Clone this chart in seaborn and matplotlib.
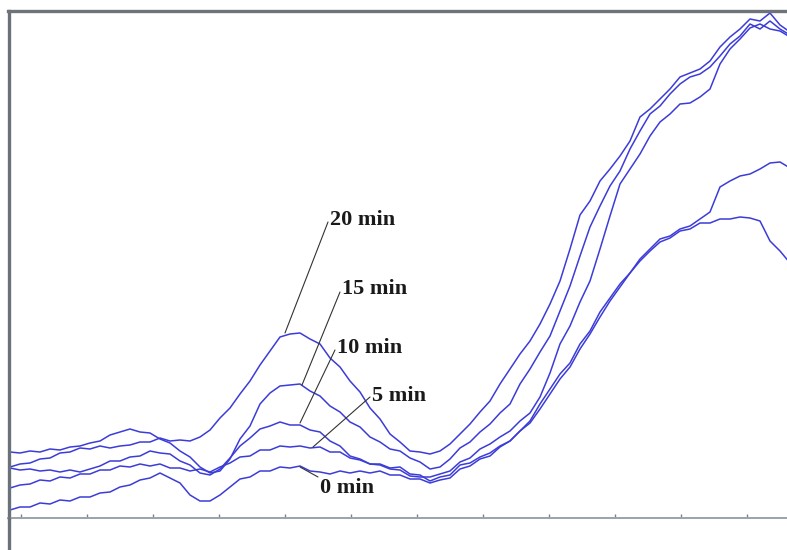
import pandas as pd
import matplotlib
matplotlib.use("Agg")
import matplotlib.pyplot as plt
import seaborn as sns
from matplotlib.lines import Line2D

# canal de muestreo (eje x sin etiquetas)
channel = list(range(10, 800, 10))

# señales, una por tiempo
sig_20 = [51, 54, 55, 59, 60, 65, 66, 70, 69, 72, 70, 72, 73, 76, 76, 80, 77, 78, 77, 81,
          88, 100, 110, 124, 137, 153, 167, 181, 184, 185, 179, 174, 160, 151, 137, 126, 110, 99, 84, 76,
          67, 66, 64, 67, 74, 84, 94, 106, 117, 134, 149, 164, 177, 194, 214, 237, 269, 303, 317, 337,
          349, 362, 377, 401, 409, 419, 429, 441, 445, 449, 457, 471, 481, 489, 499, 497, 505, 493, 486]
sig_15 = [66, 65, 67, 66, 69, 68, 71, 72, 75, 77, 83, 86, 89, 86, 85, 79, 75, 67, 61, 51,
          45, 47, 59, 79, 92, 114, 125, 132, 133, 134, 127, 122, 112, 106, 96, 91, 81, 76, 69, 67,
          60, 56, 49, 51, 59, 70, 76, 86, 94, 105, 114, 134, 149, 166, 182, 207, 232, 262, 291, 312,
          332, 347, 369, 387, 404, 412, 424, 434, 441, 444, 451, 462, 474, 482, 494, 489, 497, 489, 483]
sig_10 = [50, 48, 49, 47, 48, 46, 48, 46, 49, 52, 57, 57, 61, 62, 67, 65, 64, 57, 53, 45,
          43, 49, 60, 72, 80, 89, 92, 96, 93, 93, 88, 86, 77, 72, 62, 59, 54, 53, 49, 48,
          42, 41, 41, 44, 47, 56, 60, 69, 74, 81, 87, 97, 105, 121, 145, 174, 192, 216, 237, 269,
          302, 334, 349, 364, 382, 396, 404, 414, 415, 421, 429, 454, 469, 479, 490, 494, 489, 487, 481]
sig_5 = [30, 33, 34, 38, 37, 41, 40, 44, 44, 48, 48, 52, 51, 54, 52, 54, 50, 50, 47, 49,
         46, 51, 55, 61, 62, 68, 68, 72, 71, 72, 70, 71, 66, 66, 60, 58, 54, 54, 50, 51,
         44, 43, 37, 41, 43, 53, 55, 61, 65, 72, 77, 87, 97, 114, 129, 144, 155, 174, 187, 206,
         220, 234, 245, 259, 269, 279, 282, 289, 292, 299, 306, 331, 337, 342, 344, 349, 355, 356, 350]
sig_0 = [8, 11, 11, 15, 14, 18, 17, 21, 21, 25, 26, 31, 33, 38, 40, 45, 40, 35, 23, 17,
         17, 23, 31, 39, 41, 47, 47, 51, 50, 52, 47, 46, 44, 47, 45, 47, 45, 47, 43, 43,
         39, 39, 35, 38, 40, 49, 52, 59, 62, 71, 77, 87, 95, 109, 124, 139, 151, 169, 184, 201,
         217, 231, 245, 257, 267, 276, 280, 287, 289, 295, 295, 299, 299, 301, 300, 297, 277, 267, 255]

tiempos = ["0 min", "5 min", "10 min", "15 min", "20 min"]
series = [sig_0, sig_5, sig_10, sig_15, sig_20]

# linea guia: desde la curva hasta la etiqueta; y donde va el texto
guia_desde = [(300, 51), (313, 71), (300, 95), (302, 133), (285, 185)]
guia_hasta = [(318, 41), (370, 121), (335, 168), (340, 226), (328, 296)]
texto_en = [(320, 30), (372, 122), (337, 170), (342, 229), (330, 298)]

df = pd.concat(
    [pd.DataFrame({"channel": channel, "signal": s, "tiempo": t}) for t, s in zip(tiempos, series)],
    ignore_index=True,
)

sns.set_style("white")
azul = "#3c3cd8"

fig = plt.figure(figsize=(7.87, 5.5), dpi=100)
ax = fig.add_axes([8.5 / 787, 32 / 550, 1 - 8.5 / 787, 507 / 550])

sns.lineplot(
    data=df, x="channel", y="signal", hue="tiempo", units="tiempo",
    palette=[azul] * 5, estimator=None, sort=False, legend=False,
    linewidth=1.1, ax=ax,
)

for t, a, b, p in zip(tiempos, guia_desde, guia_hasta, texto_en):
    ax.plot([a[0], b[0]], [a[1], b[1]], color="#333333", lw=0.8)
    ax.text(p[0], p[1], t, ha="left", va="center",
            fontsize=16, fontweight="bold", family="Liberation Serif", color="#1a1a1a")

ax.set_xlim(8.5, 787)
ax.set_ylim(0, 507)
ax.set_xlabel("")
ax.set_ylabel("")
ax.set_xticks([21, 87, 153, 219, 285, 351, 417, 483, 549, 615, 681, 747])
ax.set_xticklabels([])
ax.set_yticks([])
ax.tick_params(axis="x", direction="in", length=3, width=1, color="#7a8088", bottom=True)

ax.spines["right"].set_visible(False)
ax.spines["left"].set_color("#6b7178")
ax.spines["left"].set_linewidth(2.4)
ax.spines["top"].set_color("#6e7378")
ax.spines["top"].set_linewidth(2.4)
ax.spines["bottom"].set_color("#9aa3ab")
ax.spines["bottom"].set_linewidth(1.4)

# el eje izquierdo sigue por debajo del eje x
fig.add_artist(Line2D([8.5 / 787, 8.5 / 787], [0, 32 / 550], color="#6b7178", lw=2.4))

fig.savefig("out.png", dpi=100)
